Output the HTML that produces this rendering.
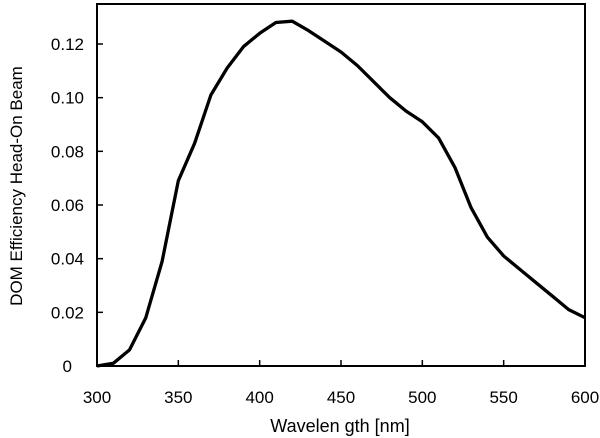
<!DOCTYPE html>
<html><head><meta charset="utf-8"><style>
html,body{margin:0;padding:0;background:#fff;}
svg{display:block;font-family:"Liberation Sans","DejaVu Sans",sans-serif;}
</style></head><body>
<svg id="chart" width="600" height="438" viewBox="0 0 600 438">
<rect x="97" y="4" width="488" height="362" fill="none" stroke="#000" stroke-width="2"/>
<g id="xt"></g>
<g id="yt"></g>
<path id="curve" fill="none" stroke="#000" stroke-width="3.3" stroke-linejoin="round"/>
<text x="340" y="432" font-size="18" text-anchor="middle">Wavelen gth  [nm]</text>
<text transform="translate(22,186) rotate(-90)" font-size="17" text-anchor="middle">DOM Efficiency Head-On Beam</text>
</svg>
<script>
const wavelengths=[300,310,320,330,340,350,360,370,380,390,400,410,420,430,440,450,460,470,480,490,500,510,520,530,540,550,560,570,580,590,600];
const efficiency=[0,0.001,0.006,0.018,0.039,0.069,0.083,0.101,0.111,0.119,0.124,0.128,0.1285,0.125,0.121,0.117,0.112,0.106,0.100,0.095,0.091,0.085,0.074,0.059,0.048,0.041,0.036,0.031,0.026,0.021,0.018];
const xTicks=[300,350,400,450,500,550,600];
const yTicks=[0,0.02,0.04,0.06,0.08,0.10,0.12];
const yTickLabels=["0","0.02","0.04","0.06","0.08","0.10","0.12"];
const X0=97,X1=585,Y0=366,Y1=44;
function sx(v){return X0+(v-300)/300*(X1-X0);}
function sy(v){return Y0-v/0.12*(Y0-Y1);}
const NS="http://www.w3.org/2000/svg";
const xt=document.getElementById('xt'),yt=document.getElementById('yt');
xTicks.forEach(v=>{
 const l=document.createElementNS(NS,'line');
 
 
 l.setAttribute('x1',sx(v));l.setAttribute('x2',sx(v));l.setAttribute('y1',Y0);l.setAttribute('y2',Y0-6);l.setAttribute('stroke','#000');l.setAttribute('stroke-width','1.5');xt.appendChild(l);
 const t=document.createElementNS(NS,'text');
 
 
 t.setAttribute('x',sx(v));t.setAttribute('y',403);t.setAttribute('font-size','17');t.setAttribute('text-anchor','middle');t.textContent=v;xt.appendChild(t);
});
yTicks.forEach((v,i)=>{
 const l=document.createElementNS(NS,'line');
 
 
 l.setAttribute('x1',X0);l.setAttribute('x2',X0+6);l.setAttribute('y1',sy(v));l.setAttribute('y2',sy(v));l.setAttribute('stroke','#000');l.setAttribute('stroke-width','1.5');yt.appendChild(l);
 const t=document.createElementNS(NS,'text');
 
 
 t.setAttribute('x',i===0?72:84);t.setAttribute('y',sy(v)+6);t.setAttribute('font-size','17');t.setAttribute('text-anchor','end');t.textContent=yTickLabels[i];yt.appendChild(t);
});
document.getElementById('curve').setAttribute('d',wavelengths.map((w,i)=>(i?'L':'M')+sx(w).toFixed(1)+','+sy(efficiency[i]).toFixed(1)).join(''));
</script>
</body></html>
